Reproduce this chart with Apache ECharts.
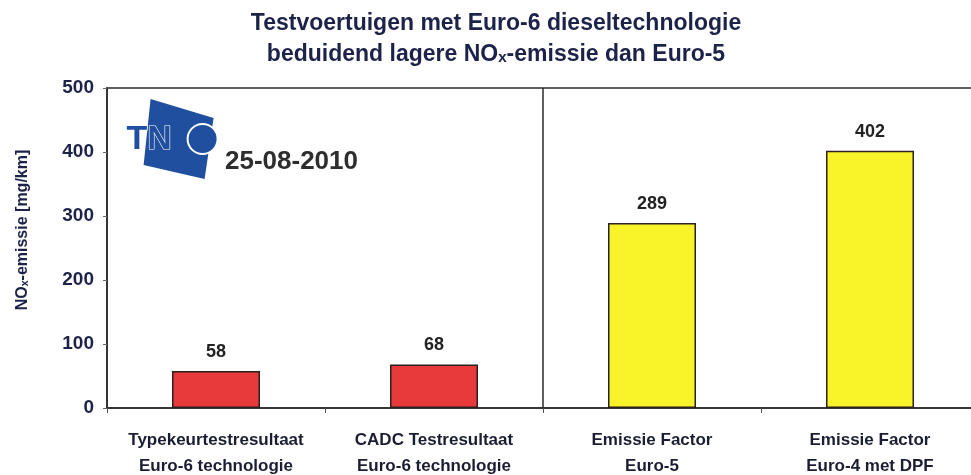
<!DOCTYPE html>
<html lang="nl">
<head>
    <meta charset="UTF-8">
    <title>NOx-emissie Euro-6</title>
    <script src="https://cdn.jsdelivr.net/npm/echarts@6/dist/echarts.min.js"></script>
    <style>
        html, body { margin: 0; padding: 0; background: #fff; }
        #main { width: 971px; height: 475px; }
    </style>
</head>
<body>
<div id="main"></div>
<script type="text/javascript">
    // data
    var categories = [
        'Typekeurtestresultaat\nEuro-6 technologie',
        'CADC Testresultaat\nEuro-6 technologie',
        'Emissie Factor\nEuro-5',
        'Emissie Factor\nEuro-4 met DPF'
    ];
    var values = [58, 68, 289, 402];
    var barColors = ['#e8393b', '#e8393b', '#f9f32a', '#f9f32a'];
    var yTicks = [0, 100, 200, 300, 400, 500];
    var dividerAt = 2; // scheiding tussen meetresultaten en emissiefactoren

    var navy = '#1d2249';
    var font = 'Liberation Sans, Arial, sans-serif';

    var myChart = echarts.init(document.getElementById('main'));

    var option = {
        backgroundColor: '#fff',
        title: {
            text: 'Testvoertuigen met Euro-6 dieseltechnologie\nbeduidend lagere NOₓ-emissie dan Euro-5',
            left: 491,
            textAlign: 'center',
            top: 3,
            textStyle: {
                fontFamily: font,
                fontWeight: 'bold',
                fontSize: 23,
                lineHeight: 31,
                color: navy
            }
        },
        grid: {
            left: 107,
            top: 88,
            width: 872,
            height: 320,
            outerBoundsMode: 'none',
            containLabel: false,
            show: true,
            borderColor: '#2a2a2a',
            borderWidth: 1.5
        },
        xAxis: [
            {
                type: 'category',
                data: categories,
                axisLine: { lineStyle: { color: '#2a2a2a', width: 1.5 } },
                axisTick: { show: true, length: 5, lineStyle: { color: '#555' } },
                splitLine: { show: false },
                axisLabel: {
                    interval: 0,
                    margin: 19,
                    fontFamily: font,
                    fontWeight: 'bold',
                    fontSize: 17,
                    lineHeight: 26,
                    color: '#1b1d33'
                }
            },
            {
                type: 'value',
                min: 0,
                max: categories.length,
                show: false
            }
        ],
        yAxis: {
            type: 'value',
            min: yTicks[0],
            max: yTicks[yTicks.length - 1],
            interval: 100,
            name: 'NOₓ-emissie [mg/km]',
            nameLocation: 'middle',
            nameRotate: 90,
            nameGap: 76,
            nameTextStyle: {
                fontFamily: font,
                fontWeight: 'bold',
                fontSize: 16,
                color: navy,
                padding: [0, 0, 0, 36]
            },
            axisLine: { show: true, lineStyle: { color: '#2a2a2a', width: 1.5 } },
            axisTick: { show: true, length: 4, lineStyle: { color: '#666' } },
            splitLine: { show: false },
            axisLabel: {
                margin: 13,
                fontFamily: font,
                fontWeight: 'bold',
                fontSize: 19,
                color: navy
            }
        },
        graphic: [
            {
                type: 'group',
                left: 126,
                top: 99,
                children: [
                    {
                        type: 'polygon',
                        shape: { points: [[24, 0], [87, 19], [78, 80], [17, 66]] },
                        style: { fill: '#1f4f9e' }
                    },
                    {
                        type: 'circle',
                        shape: { cx: 76, cy: 40, r: 15 },
                        style: { fill: '#1f4f9e', stroke: '#fff', lineWidth: 2 }
                    },
                    {
                        type: 'text',
                        x: 0,
                        y: 24,
                        style: {
                            text: 'TN',
                            fontFamily: font,
                            fontWeight: 'bold',
                            fontSize: 34,
                            fill: '#1f4f9e',
                            stroke: '#fff',
                            lineWidth: 1.2
                        }
                    }
                ]
            },
            {
                type: 'text',
                left: 225,
                top: 149,
                style: {
                    text: '25-08-2010',
                    fontFamily: font,
                    fontWeight: 'bold',
                    fontSize: 26,
                    fill: '#2e2e2e'
                }
            }
        ],
        series: [
            {
                type: 'bar',
                xAxisIndex: 0,
                barWidth: 88,
                data: values.map(function (v, i) {
                    return { value: v, itemStyle: { color: barColors[i] } };
                }),
                itemStyle: { borderColor: '#2a2020', borderWidth: 1.5 },
                label: {
                    show: true,
                    position: 'top',
                    distance: 10,
                    fontFamily: font,
                    fontWeight: 'bold',
                    fontSize: 18,
                    color: '#222'
                }
            },
            {
                type: 'scatter',
                xAxisIndex: 1,
                data: [],
                markLine: {
                    silent: true,
                    symbol: 'none',
                    label: { show: false },
                    lineStyle: { color: '#2a2a2a', width: 1.5, type: 'solid' },
                    data: [{ xAxis: dividerAt }]
                }
            }
        ]
    };

    myChart.setOption(option);
</script>
</body>
</html>
